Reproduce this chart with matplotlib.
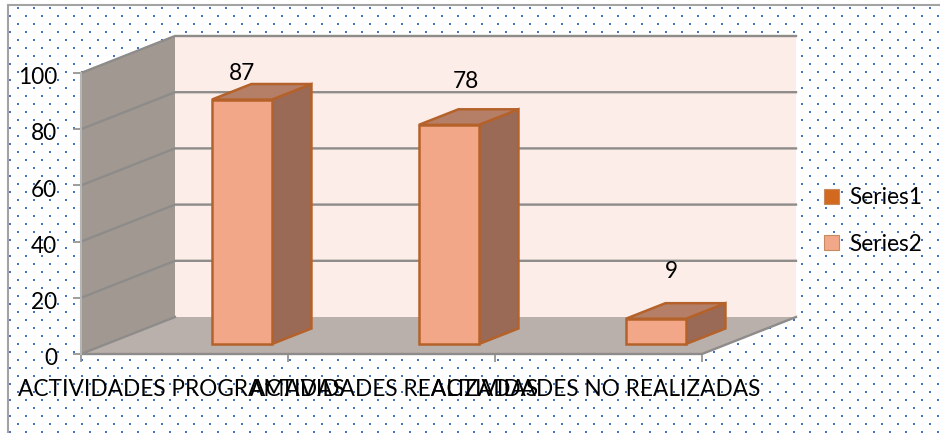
import matplotlib.pyplot as plt
import numpy as np
from matplotlib.colors import to_rgb
from matplotlib.patches import Patch
from matplotlib.transforms import ScaledTranslation

plt.rcParams["font.family"] = ["Lato", "DejaVu Sans"]

categories = ["ACTIVIDADES PROGRAMADAS", "ACTIVIDADES REALIZADAS", "ACTIVIDADES NO REALIZADAS"]
series2_values = [87, 78, 9]
y_ticks = [0, 20, 40, 60, 80, 100]
legend_labels = ["Series1", "Series2"]

W, H = 940, 433

wall_back = "#FCEDE8"
wall_side = "#A09891"
floor_col = "#B9AFAB"
grid_col = "#8E8C8A"
bar_front = "#F2A888"
bar_side = "#9A6A56"
bar_top = "#B57E66"
bar_edge = "#B5622A"
series1_col = "#D2691F"
dot_col = "#4472C4"
font_size = 16.3

fig = plt.figure(figsize=(W / 100, H / 100), dpi=100)

# dotted chart background, in pixel coordinates
img = np.ones((H, W, 3))
for x0, y0, x1 in [(17, 7, 932), (9, 15, W)]:
    for y in range(y0, H, 16):
        for x in range(x0, x1, 16):
            img[y : y + 2, x : x + 2] = to_rgb(dot_col)

bg = fig.add_axes([0, 0, 1, 1])
bg.imshow(img, extent=(0, W, H, 0), interpolation="nearest", aspect="auto")
bg.set_xlim(0, W)
bg.set_ylim(H, 0)
bg.axis("off")
bg.plot([7.5, 7.5, W], [H, 4.5, 4.5], color="#A3A3A3", lw=1.5, solid_joinstyle="miter")

# axes cover the front plane of the 3d box
left, right, bottom, top = 81, 702, 354, 73
ax = fig.add_axes([left / W, 1 - bottom / H, (right - left) / W, (bottom - top) / H])
ax.set_xlim(0, len(categories))
ax.set_ylim(0, 100)
ax.patch.set_visible(False)
for s in ax.spines.values():
    s.set_visible(False)

depth_x = 94 / (right - left) * len(categories)
depth_y = 37 / (bottom - top) * 100


def proj(x, y, d):
    return x + d * depth_x, y + d * depth_y


def face(pts, **kw):
    xs, ys = zip(*[proj(*p) for p in pts])
    ax.fill(xs, ys, clip_on=False, **kw)


n = len(categories)
face([(0, 0, 1), (n, 0, 1), (n, 100, 1), (0, 100, 1)], color=wall_back, lw=0, zorder=1)
face([(0, 0, 0), (0, 0, 1), (0, 100, 1), (0, 100, 0)], color=wall_side, lw=0, zorder=1)
face([(0, 0, 0), (n, 0, 0), (n, 0, 1), (0, 0, 1)], color=floor_col, lw=0, zorder=1)

for v in y_ticks:
    xs, ys = zip(proj(0, v, 0), proj(0, v, 1), proj(n, v, 1))
    if v > 0:
        ax.plot(xs, ys, color=grid_col, lw=1.7, clip_on=False, zorder=2)

# axis lines of the box
xs, ys = zip(proj(0, 0, 1), proj(0, 0, 0), proj(n, 0, 0), proj(n, 0, 1))
ax.plot(xs, ys, color=grid_col, lw=1.7, clip_on=False, zorder=2)
ax.plot([0, 0], [0, 100], color="#B5B5B5", lw=1.5, clip_on=False, zorder=2)

# clustered bars, series 1 has no values so only series 2 is drawn
bar_w = 0.29
d0, d1 = 0.27, 0.69
label_dx = [0, 17, 15]
label_dy = [26, 43, 47]
for i, v in enumerate(series2_values):
    x0, x1 = i + 0.51, i + 0.51 + bar_w
    style = dict(edgecolor=bar_edge, lw=1.8, joinstyle="miter", zorder=3)
    face([(x1, 0, d0), (x1, 0, d1), (x1, v, d1), (x1, v, d0)], facecolor=bar_side, **style)
    face([(x0, v, d0), (x1, v, d0), (x1, v, d1), (x0, v, d1)], facecolor=bar_top, **style)
    face([(x0, 0, d0), (x1, 0, d0), (x1, v, d0), (x0, v, d0)], facecolor=bar_front, **style)
    ax.annotate(
        str(v),
        proj((x0 + x1) / 2, v, d0),
        xytext=(label_dx[i] * 0.72, label_dy[i] * 0.72),
        textcoords="offset points",
        ha="center",
        va="center",
        fontsize=font_size,
        color="black",
        zorder=5,
        annotation_clip=False,
    )

ax.set_yticks(y_ticks)
ax.set_xticks(range(n + 1))
ax.set_xticklabels([])
ax.tick_params(axis="y", length=5.8, width=1.2, color=grid_col, labelsize=font_size, pad=11.5)
ax.tick_params(axis="x", length=5.8, width=1.2, color=grid_col)
for lab in ax.get_yticklabels():
    lab.set_transform(lab.get_transform() + ScaledTranslation(0, -2 / 72, fig.dpi_scale_trans))

cat_shift = [-3, 3, -3]
for i, c in enumerate(categories):
    ax.annotate(
        c,
        (i + 0.5, 0),
        xytext=(cat_shift[i] * 0.72, -36 * 0.72),
        textcoords="offset points",
        ha="center",
        va="center",
        fontsize=font_size,
        color="black",
        annotation_clip=False,
    )

handles = [
    Patch(facecolor=series1_col, edgecolor="#C58A5E", lw=0.8),
    Patch(facecolor=bar_front, edgecolor="#C58A5E", lw=0.8),
]
fig.legend(
    handles,
    legend_labels,
    loc="center left",
    bbox_to_anchor=(804 / W, 1 - 221 / H),
    frameon=False,
    fontsize=font_size,
    handlelength=0.65,
    handleheight=0.65,
    handletextpad=0.45,
    labelspacing=1.12,
    borderpad=0.4,
)

fig.savefig("out.png", dpi=100)
